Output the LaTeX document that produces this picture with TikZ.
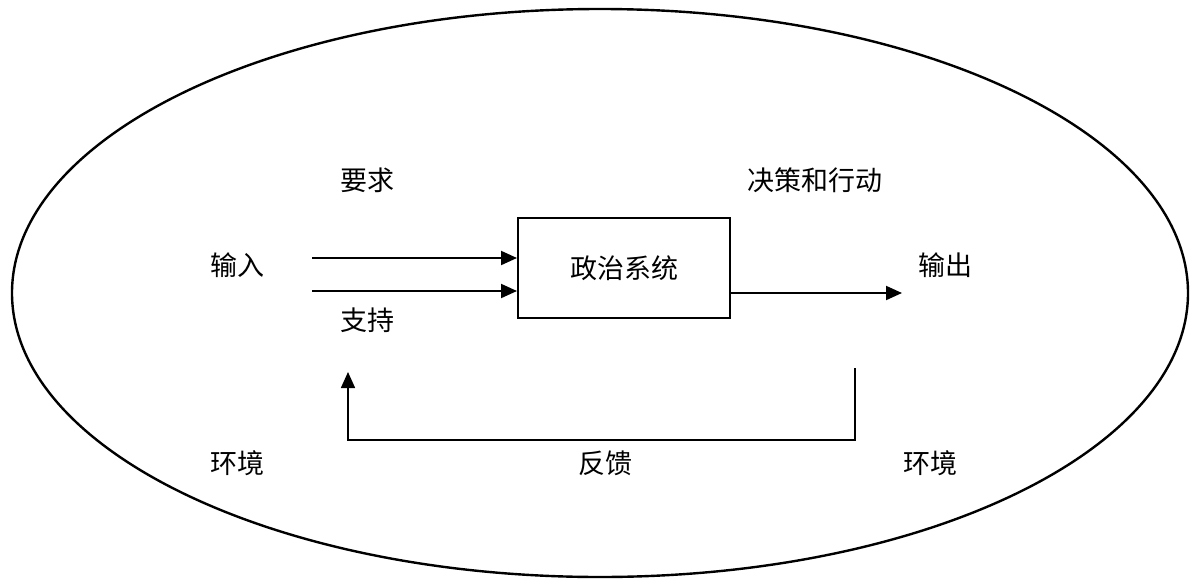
\documentclass[tikz,border=0pt]{standalone}
\usepackage{fontspec}
\newfontfamily\cjk{Noto Sans CJK SC}
\usetikzlibrary{arrows.meta}
\begin{document}
\begin{tikzpicture}[x=1pt,y=-1pt,
  lbl/.style={font=\cjk\fontsize{27}{30}\selectfont, inner sep=0pt},
  conn/.style={line width=2pt,-{Triangle[length=16pt,width=14pt]}},
  fb/.style={line width=1.6pt}]
\useasboundingbox (0,0) rectangle (1200,584);
\draw[line width=2.4pt] (600,293) ellipse [x radius=588, y radius=284];
\node[draw,line width=2pt,minimum width=212pt,minimum height=100pt,lbl] (sys) at (624,268) {政治系统};
\node[lbl] (req) at (367,180) {要求};
\node[lbl] (dec) at (815,180) {决策和行动};
\node[lbl] (in) at (237,265) {输入};
\node[lbl] (out) at (945,265) {输出};
\node[lbl] (sup) at (367,320) {支持};
\node[lbl] (env1) at (237,463) {环境};
\node[lbl] (fbk) at (605,463) {反馈};
\node[lbl] (env2) at (930,463) {环境};
\coordinate (a1) at (312,258);
\coordinate (a2) at (312,291);
\coordinate (o2) at (902,293);
\coordinate (f1) at (855,368);
\coordinate (f2) at (348,372);
\draw[conn] (a1) -- (a1 -| sys.west);
\draw[conn] (a2) -- (a2 -| sys.west);
\draw[conn] (sys.east |- o2) -- (o2);
\draw[fb,-{Triangle[length=16pt,width=14pt]}] (f1) -- (855,440) -- (348,440) -- (f2);
\end{tikzpicture}
\end{document}
